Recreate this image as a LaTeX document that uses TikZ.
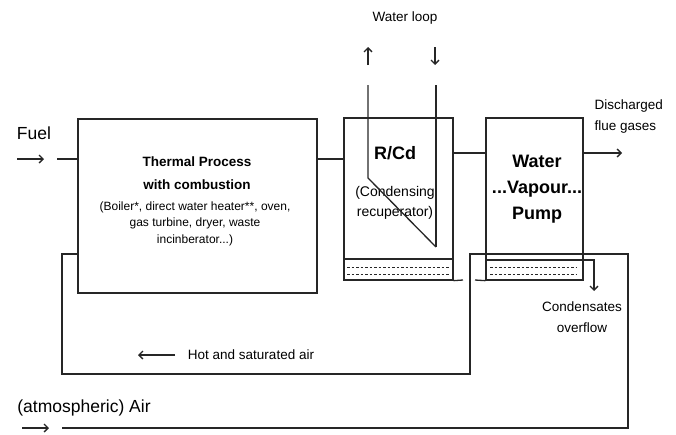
\documentclass[tikz,border=0pt]{standalone}
\usepackage{fontspec}
\setmainfont{Liberation Sans}
\usetikzlibrary{arrows.meta}

\tikzset{
  unitbox/.style={draw, inner sep=0pt},
  txt/.style={font=\fontsize{13.5}{21}\selectfont, align=center, inner sep=0pt},
  bigtxt/.style={font=\fontsize{17.5}{21}\selectfont, inner sep=0pt},
  smalltxt/.style={font=\fontsize{12}{16.5}\selectfont, align=center, inner sep=0pt},
  unitname/.style={font=\bfseries\fontsize{18}{26}\selectfont, align=center, inner sep=0pt},
  traydash/.style={dash pattern=on 2.5pt off 2pt, line width=0.9pt}
}

\begin{document}
\begin{tikzpicture}[x=1pt, y=-1pt, line width=1.3pt, draw=black!85,
    >={Straight Barb[length=4pt,width=8pt]}]
    \useasboundingbox (0,0) rectangle (676,434);

    % Units
    \node[unitbox, minimum width=239pt, minimum height=174pt] (thermal) at (197.5,206) {};
    \node[unitbox, minimum width=109pt, minimum height=162pt] (rcd) at (398.5,199) {};
    \node[unitbox, minimum width=97pt, minimum height=162pt] (pump) at (534.5,199) {};

    % Texts in the units
    \node[txt, font=\bfseries\fontsize{13.5}{23}\selectfont] (thermalname) at (197,173.5) {Thermal Process\\with combustion};
    \node[smalltxt] (thermalkinds) at (195,223.5) {(Boiler*, direct water heater**, oven,\\gas turbine, dryer, waste\\incinberator...)};
    \node[unitname] (rcdname) at (395,153) {R/Cd};
    \node[txt, font=\fontsize{14}{20}\selectfont] (rcdkind) at (395,203) {(Condensing\\recuperator)};
    \node[unitname] (pumpname) at (537,189) {Water\\...Vapour...\\Pump};

    % Trays
    \draw (rcd.west |- 0,259) -- (rcd.east |- 0,259);
    \draw[traydash] (347,267) -- (450,267);
    \draw[traydash] (347,274) -- (450,274);
    \draw[traydash] (490,267) -- (576,267);
    \draw[traydash] (490,274) -- (576,274);
    \draw (rcd.south east) -- (463,280);
    \draw (475,280) -- (pump.south west);

    % Water loop
    \node[txt] (waterloop) at (405,18) {Water loop};
    \draw[->] (368,65) -- (368,47);
    \draw[->] (435,47) -- (435,65);
    \draw (368,85) -- (368,178) -- (436,247);
    \draw (436,85) -- (436,247);

    % Fuel and flue gases
    \node[bigtxt] (fuel) at (34,133) {Fuel};
    \draw[->] (17,159) -- (44,159);
    \draw (57,159) -- (thermal.west |- 0,159);
    \draw (thermal.east |- 0,159) -- (rcd.west |- 0,159);
    \draw (rcd.east |- 0,153) -- (pump.west |- 0,153);
    \draw[->] (pump.east |- 0,153) -- (622,153);
    \node[txt, align=left, anchor=west] (flue) at (594,116.5) {Discharged\\flue gases};

    % Condensates
    \draw[->] (pump.west |- 0,260) -- (594,260) -- (594,291);
    \node[txt] (overflow) at (582,317.5) {Condensates\\overflow};

    % Air loop
    \node[bigtxt] (air) at (84,408) {(atmospheric) Air};
    \draw[->] (22,428) -- (49,428);
    \draw (62,428) -- (628,428) -- (628,254) -- (470,254) -- (470,374)
        -- (62,374) -- (62,254) -- (thermal.west |- 0,254);
    \draw[->] (175,355) -- (138,355);
    \node[txt] (hotair) at (251,355) {Hot and saturated air};
\end{tikzpicture}
\end{document}
